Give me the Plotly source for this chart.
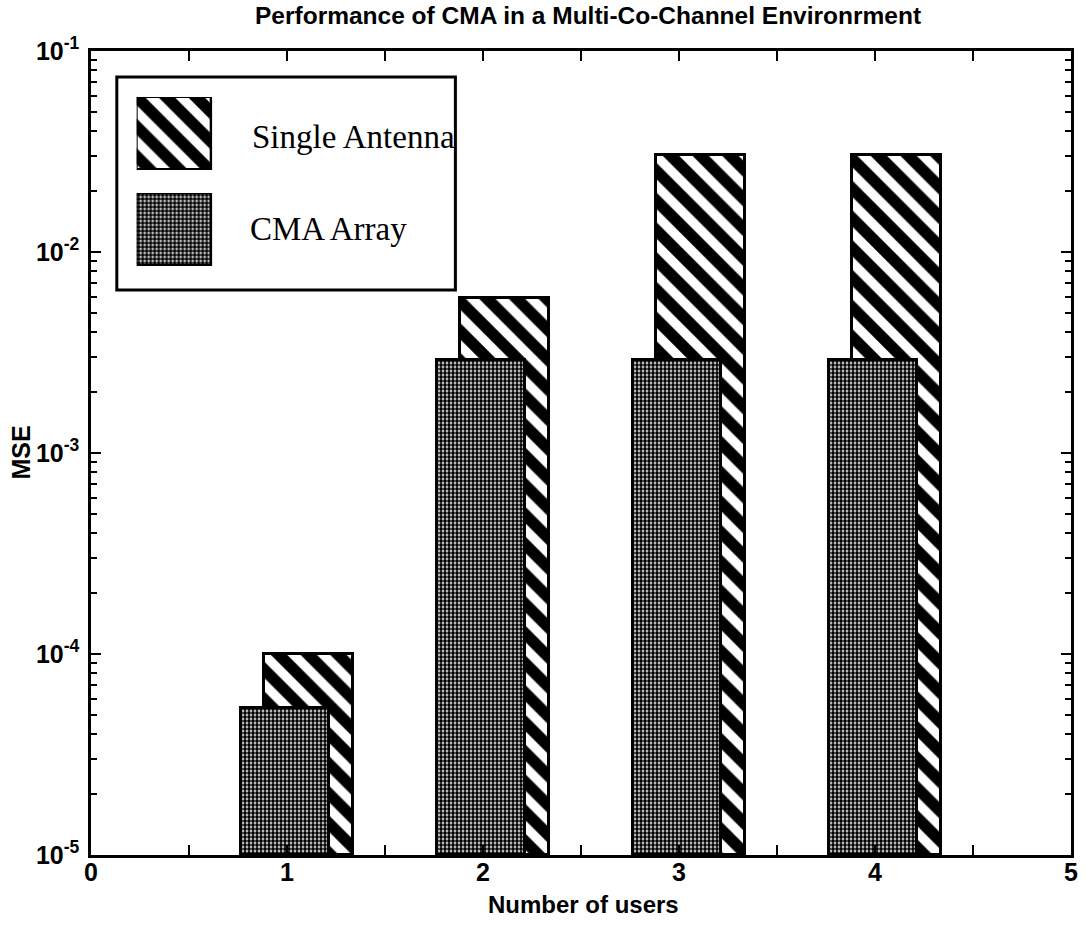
import plotly.graph_objects as go

# Mean squared error versus number of co-channel users
users = [1, 2, 3, 4]
single_antenna_mse = [1.0e-4, 5.9e-3, 3.05e-2, 3.05e-2]
cma_array_mse = [5.4e-5, 2.9e-3, 2.9e-3, 2.9e-3]
series_names = ["Single Antenna", "CMA Array"]
x_tick_values = [0, 1, 2, 3, 4, 5]
y_tick_values = [1e-5, 1e-4, 1e-3, 1e-2, 1e-1]
y_tick_labels = ["10<sup>-5</sup>", "10<sup>-4</sup>", "10<sup>-3</sup>",
                 "10<sup>-2</sup>", "10<sup>-1</sup>"]

W, H = 1086, 926
L, R, T, B = 91, 8, 51, 71
BAR_W = 0.45
BASE = 1e-5

hatch = dict(shape="\\", fgcolor="black", bgcolor="white", size=21,
             solidity=0.55, fillmode="replace")
stipple = dict(shape=".", fgcolor="black", bgcolor="white", size=4,
               solidity=0.7, fillmode="replace")
edge = dict(color="black", width=3)

fig = go.Figure()

# Single-antenna bars sit slightly right of each user count
fig.add_trace(go.Bar(
    x=users, y=[v - BASE for v in single_antenna_mse], base=BASE,
    width=BAR_W, offset=-BAR_W / 2 + 0.11,
    marker=dict(color="white", pattern=hatch, line=edge),
    name=series_names[0], showlegend=False,
))
# CMA array bars drawn in front
fig.add_trace(go.Bar(
    x=users, y=[v - BASE for v in cma_array_mse], base=BASE,
    width=BAR_W, offset=-BAR_W / 2 - 0.01,
    marker=dict(color="white", pattern=stipple, line=edge),
    name=series_names[1], showlegend=False,
))

# Legend swatches: one unit bar per small subplot
for pat, ax in [(hatch, "2"), (stipple, "3")]:
    fig.add_trace(go.Bar(
        x=[0], y=[1], width=1, xaxis="x" + ax, yaxis="y" + ax,
        marker=dict(color="white", pattern=pat, line=dict(color="black", width=3)),
        showlegend=False, hoverinfo="skip",
    ))

pw, ph = W - L - R, H - T - B


def px_x(p):
    return (p - L) / pw


def px_y(p):
    return 1 - (p - T) / ph


axis_common = dict(showline=True, linecolor="black", linewidth=2.5, mirror="allticks",
                   ticks="inside", tickcolor="black", tickwidth=2, showgrid=False,
                   zeroline=False)

swatch_axis = dict(visible=False, fixedrange=True)

fig.update_layout(
    width=W, height=H,
    margin=dict(l=L, r=R, t=T, b=B),
    paper_bgcolor="white", plot_bgcolor="white",
    barmode="overlay", bargap=0,
    showlegend=False,
    xaxis=dict(range=[0, 5], tickvals=x_tick_values, ticklen=10,
               ticklabelstandoff=-7,
               tickfont=dict(family="Liberation Sans", size=25, color="black",
                             weight="bold"),
               minor=dict(dtick=0.5, ticks="inside", ticklen=10, tickwidth=2,
                          tickcolor="black"),
               **axis_common),
    yaxis=dict(type="log", range=[-5, -1], tickvals=y_tick_values,
               ticktext=y_tick_labels, ticklen=10, ticklabelstandoff=4,
               tickfont=dict(family="Liberation Sans", size=25, color="black",
                             weight="bold"),
               minor=dict(ticks="inside", ticklen=6, tickwidth=2, tickcolor="black",
                          dtick="D1"),
               **axis_common),
    xaxis2=dict(domain=[px_x(137), px_x(213)], range=[-0.5, 0.5], anchor="y2",
                **swatch_axis),
    yaxis2=dict(domain=[px_y(170), px_y(97)], range=[0, 1], anchor="x2",
                **swatch_axis),
    xaxis3=dict(domain=[px_x(137), px_x(213)], range=[-0.5, 0.5], anchor="y3",
                **swatch_axis),
    yaxis3=dict(domain=[px_y(266), px_y(193)], range=[0, 1], anchor="x3",
                **swatch_axis),
    shapes=[dict(type="rect", xref="paper", yref="paper", layer="below",
                 x0=px_x(117), x1=px_x(458), y0=px_y(290), y1=px_y(77),
                 line=dict(color="black", width=3), fillcolor="white")],
    annotations=[
        dict(text="Performance of CMA in a Multi-Co-Channel Environrment",
             xref="paper", yref="paper", x=px_x(592), y=px_y(16),
             xanchor="center", yanchor="middle", showarrow=False,
             font=dict(family="Liberation Sans", size=24.5, color="black",
                       weight="bold")),
        dict(text="Number of users", xref="paper", yref="paper",
             x=px_x(587), y=px_y(904), xanchor="center", yanchor="middle",
             showarrow=False,
             font=dict(family="Liberation Sans", size=24, color="black", weight="bold")),
        dict(text="MSE", xref="paper", yref="paper", textangle=-90,
             x=px_x(20), y=px_y(453), xanchor="center", yanchor="middle",
             showarrow=False,
             font=dict(family="Liberation Sans", size=25, color="black", weight="bold")),
        dict(text=series_names[0], xref="paper", yref="paper",
             x=px_x(251), y=px_y(137), xanchor="left", yanchor="middle",
             showarrow=False,
             font=dict(family="Liberation Serif", size=33, color="black")),
        dict(text=series_names[1], xref="paper", yref="paper",
             x=px_x(249), y=px_y(229), xanchor="left", yanchor="middle",
             showarrow=False,
             font=dict(family="Liberation Serif", size=33, color="black")),
    ],
)

fig.write_html("out.html")
